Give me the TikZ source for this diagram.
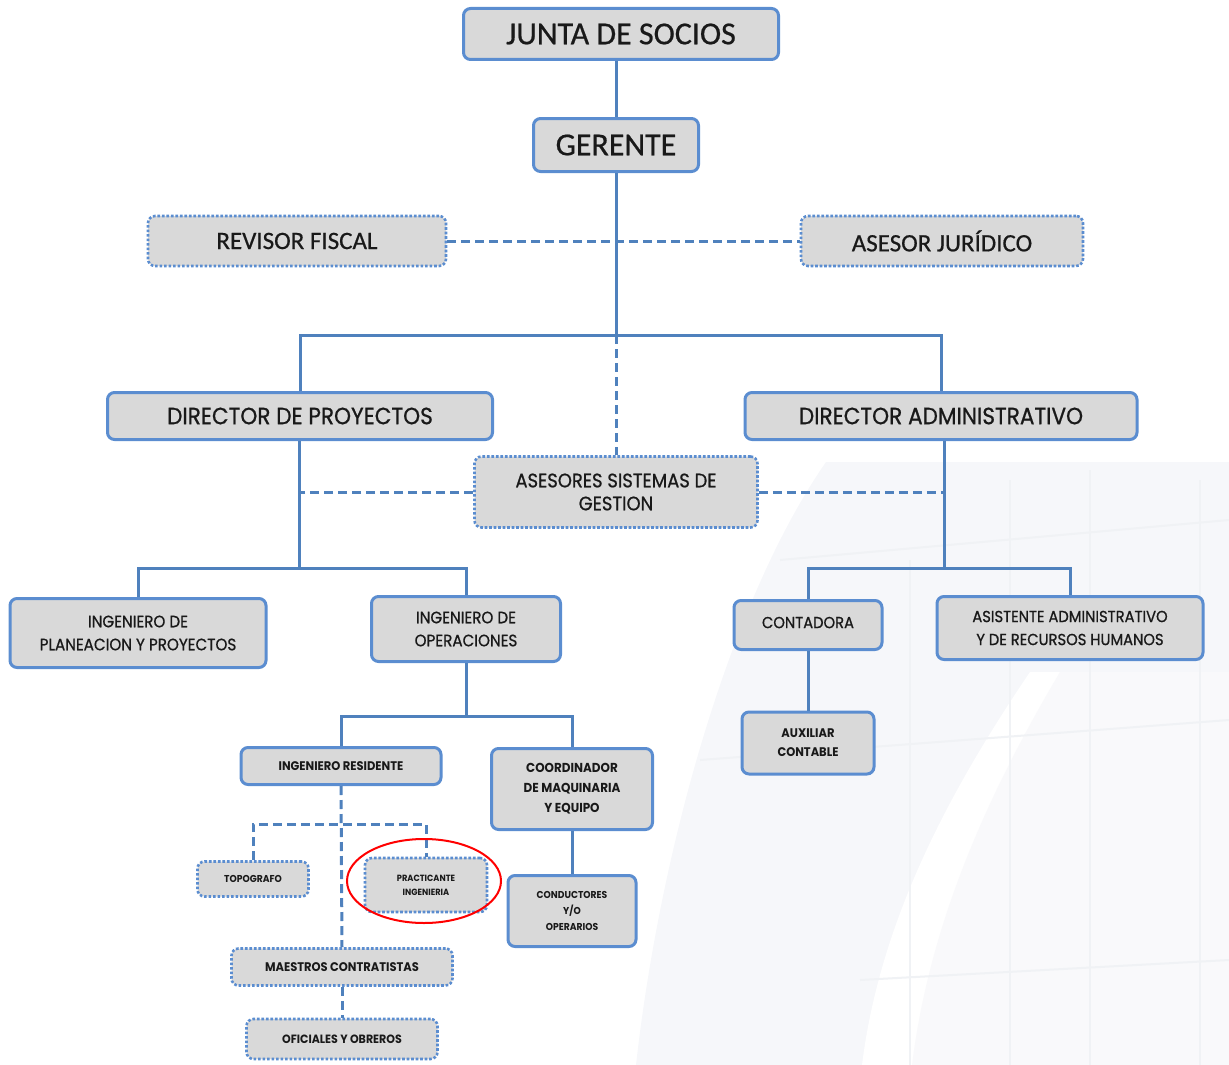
\documentclass[tikz,border=0pt]{standalone}
\usepackage{fontspec}
\newfontfamily\fhead{Carlito}[FakeBold=0.6]
\newfontfamily\fbody{Poppins}[FakeStretch=0.92, FakeBold=0.8]
\newfontfamily\fsmall{Poppins}[FakeStretch=0.92]
\usetikzlibrary{shapes.geometric}
\definecolor{bord}{HTML}{5B8DD0}
\definecolor{boxfill}{HTML}{D9D9D9}
\definecolor{conn}{HTML}{4F81BD}
\definecolor{wm}{HTML}{F6F7FA}
\definecolor{wmline}{HTML}{F0F2F5}
\newcommand{\F}[2]{\fontsize{#1}{#2}\selectfont}
\begin{document}
\begin{tikzpicture}[x=1pt,y=-1pt,
  solidbox/.style={draw=bord, line width=3pt, fill=boxfill, rounded corners=7pt, align=center, inner sep=0pt, text=black!90},
  dotbox/.style={draw=bord, line width=2.6pt, dash pattern=on 2.6pt off 1.9pt, fill=boxfill, rounded corners=7pt, align=center, inner sep=0pt, text=black!90},
  solidconn/.style={draw=conn, line width=3pt},
  dashconn/.style={draw=conn, line width=3pt, dash pattern=on 9pt off 5pt},
]
\useasboundingbox (0,0) rectangle (1229,1065);
% faint watermark
\fill[wm] (826,462) .. controls (730,600) and (660,850) .. (636,1065) -- (1229,1065) -- (1229,462) -- cycle;
\fill[white] (1030,672) .. controls (950,790) and (880,920) .. (862,1065) -- (1229,1065) -- (1229,672) -- cycle;
\fill[wm!70] (1060,672) .. controls (990,790) and (930,920) .. (912,1065) -- (1229,1065) -- (1229,672) -- cycle;
\draw[wmline, line width=2pt] (910,560) -- (910,1065) (1010,480) -- (1010,1065) (1090,470) -- (1090,1065) (1200,480) -- (1200,1065);
\draw[wmline, line width=2pt] (700,760) -- (1229,720) (780,560) -- (1229,520) (860,980) -- (1229,960);

% nodes
\node[solidbox, minimum width=315, minimum height=51, font=\fhead\F{32}{36}] (junta) at (621,34) {JUNTA DE SOCIOS};
\node[solidbox, minimum width=165, minimum height=53, font=\fhead\F{32}{36}] (ger) at (616,145) {GERENTE};
\node[dotbox, minimum width=298, minimum height=50, font=\fhead\F{25}{30}] (rev) at (297,241) {REVISOR FISCAL};
\node[dotbox, minimum width=282, minimum height=50, font=\fhead\F{25}{30}] (ase) at (942,241) {ASESOR JURÍDICO};
\node[solidbox, minimum width=385, minimum height=47, font=\fbody\F{23.5}{26}] (dp) at (300,416) {DIRECTOR DE PROYECTOS};
\node[solidbox, minimum width=392, minimum height=47, font=\fbody\F{23.5}{26}] (da) at (941,416) {DIRECTOR ADMINISTRATIVO};
\node[dotbox, minimum width=283, minimum height=71, font=\fbody\F{19.5}{23}] (asg) at (616,492) {ASESORES SISTEMAS DE\\GESTION};
\node[solidbox, minimum width=256, minimum height=69, font=\fbody\F{16.5}{23}] (ipp) at (138,633) {INGENIERO DE\\PLANEACION Y PROYECTOS};
\node[solidbox, minimum width=189, minimum height=65, font=\fbody\F{16.5}{23}] (iop) at (466,629) {INGENIERO DE\\OPERACIONES};
\node[solidbox, minimum width=148, minimum height=49, font=\fbody\F{16}{20}] (cont) at (808,625) {\raisebox{5pt}{CONTADORA}};
\node[solidbox, minimum width=266, minimum height=63, font=\fbody\F{16}{23}] (asis) at (1070,628) {ASISTENTE ADMINISTRATIVO\\Y DE RECURSOS HUMANOS};
\node[solidbox, minimum width=132, minimum height=62, font=\fsmall\bfseries\F{12.5}{19}] (aux) at (808,743) {AUXILIAR\\CONTABLE};
\node[solidbox, minimum width=200, minimum height=37, font=\fsmall\bfseries\F{12.5}{16}] (ires) at (341,766) {INGENIERO RESIDENTE};
\node[solidbox, minimum width=161, minimum height=81, font=\fsmall\bfseries\F{13}{20}] (coord) at (572,789) {COORDINADOR\\DE MAQUINARIA\\Y EQUIPO};
\node[solidbox, minimum width=128, minimum height=71, font=\fsmall\bfseries\F{10}{16}] (cond) at (572,911) {CONDUCTORES\\Y/O\\OPERARIOS};
\node[dotbox, minimum width=111, minimum height=35, font=\fsmall\bfseries\F{10}{12}] (topo) at (253,879) {TOPOGRAFO};
\node[dotbox, minimum width=122, minimum height=54, font=\fsmall\bfseries\F{9}{14}] (prac) at (426,885) {PRACTICANTE\\INGENIERIA};
\node[dotbox, minimum width=221, minimum height=37, font=\fsmall\bfseries\F{12.5}{15}] (maes) at (342,967) {MAESTROS CONTRATISTAS};
\node[dotbox, minimum width=191, minimum height=40, font=\fsmall\bfseries\F{12}{15}] (ofi) at (342,1039) {OFICIALES Y OBREROS};

% junction coordinates
\coordinate (b1) at (616,335);
\coordinate (b2) at (299,568);
\coordinate (b3) at (944,568);
\coordinate (b4) at (466,716);
\coordinate (b5) at (341,824);

% connectors
\draw[solidconn] (junta.south -| ger.north) -- (ger.north);
\draw[solidconn] (ger.south) -- (b1);
\draw[solidconn] (dp.north) |- (b1) -| (da.north);
\draw[dashconn] (rev.east) -- (ase.west);
\draw[dashconn] (b1) -- (asg.north);
\draw[solidconn] (dp.south -| b2) -- (b2);
\draw[solidconn] (ipp.north) |- (b2) -| (iop.north);
\draw[dashconn] (asg.west) -- (asg.west -| b2);
\draw[solidconn] (da.south -| b3) -- (b3);
\draw[dashconn] (asg.east) -- (asg.east -| b3);
\draw[solidconn] (cont.north) |- (b3) -| (asis.north);
\draw[solidconn] (cont.south) -- (aux.north);
\draw[solidconn] (iop.south) -- (b4);
\draw[solidconn] (ires.north) |- (b4) -| (coord.north);
\draw[solidconn] (coord.south) -- (cond.north);
\draw[dashconn] (ires.south) -- (maes.north);
\draw[dashconn] (topo.north) |- (b5) -| (prac.north);
\draw[dashconn] (maes.south) -- (ofi.north);

% highlight
\draw[red, line width=2pt] (424,881) ellipse (77pt and 42pt);
\end{tikzpicture}
\end{document}
